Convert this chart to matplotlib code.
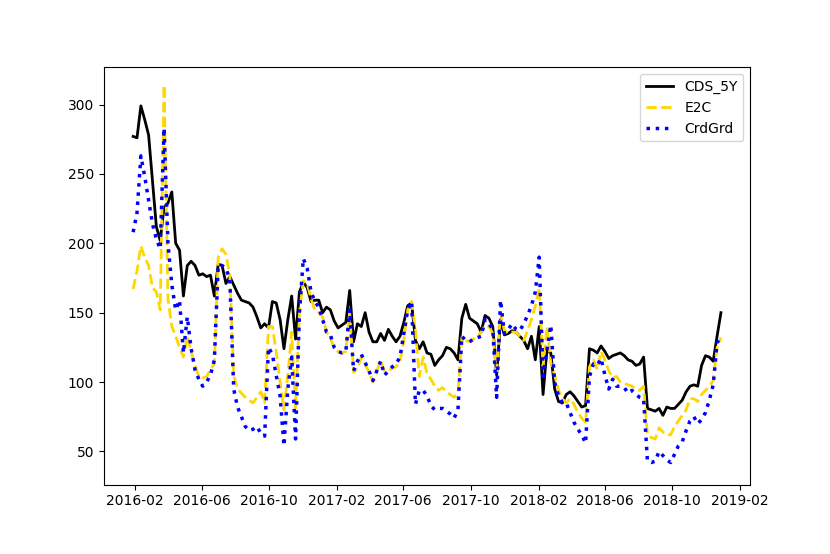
import numpy as np
import pandas as pd
import matplotlib
matplotlib.use("Agg")
import matplotlib.pyplot as plt
import matplotlib.dates as mdates

# weekly observations, Fridays
dates = pd.date_range("2016-01-29", periods=153, freq="7D")

cds_5y = [
    277, 276, 299, 289, 278, 245, 212, 202, 226, 229,
    237, 200, 195, 162, 184, 187, 184, 177, 178, 176,
    177, 162, 185, 184, 171, 176, 170, 164, 159, 158,
    157, 154, 147, 139, 142, 139, 158, 157, 145, 124,
    145, 162, 131, 165, 172, 168, 158, 159, 159, 150,
    154, 152, 144, 139, 141, 143, 166, 129, 142, 140,
    150, 136, 129, 129, 135, 130, 138, 133, 129, 133,
    143, 155, 157, 130, 124, 129, 121, 120, 112, 116,
    119, 125, 124, 121, 116, 146, 156, 146, 144, 142,
    136, 148, 146, 140, 105, 145, 134, 135, 137, 136,
    133, 130, 124, 133, 116, 140, 91, 123, 121, 95,
    86, 85, 91, 93, 90, 86, 82, 83, 124, 123,
    121, 126, 122, 117, 119, 120, 121, 119, 116, 115,
    112, 113, 118, 81, 80, 79, 81, 76, 82, 81,
    81, 84, 87, 93, 97, 98, 97, 112, 119, 118,
    115, 133, 150,
]

e2c = [
    167, 180, 198, 190, 184, 168, 165, 152, 314, 160,
    140, 133, 125, 118, 133, 122, 112, 104, 103, 104,
    109, 113, 190, 196, 192, 177, 105, 95, 92, 89,
    87, 85, 89, 93, 85, 140, 140, 122, 100, 80,
    105, 136, 80, 150, 173, 171, 160, 152, 150, 147,
    136, 132, 124, 122, 121, 122, 150, 107, 110, 118,
    113, 107, 100, 108, 115, 108, 108, 110, 111, 115,
    130, 152, 158, 138, 104, 118, 106, 102, 97, 94,
    96, 93, 91, 89, 92, 132, 130, 129, 131, 133,
    136, 141, 140, 135, 108, 150, 137, 135, 136, 136,
    133, 130, 137, 145, 155, 168, 111, 140, 114, 105,
    94, 88, 85, 88, 84, 78, 74, 71, 111, 116,
    109, 122, 116, 108, 103, 104, 100, 99, 98, 97,
    95, 94, 97, 62, 60, 59, 67, 64, 62, 62,
    68, 72, 76, 80, 88, 88, 86, 91, 94, 97,
    101, 125, 132,
]

crd_grd = [
    208, 222, 263, 248, 231, 214, 203, 196, 283, 200,
    170, 152, 159, 121, 147, 124, 109, 102, 97, 100,
    105, 116, 184, 184, 182, 174, 95, 82, 75, 68,
    65, 66, 68, 63, 61, 125, 120, 105, 90, 54,
    95, 118, 59, 150, 189, 182, 165, 158, 154, 145,
    136, 134, 125, 122, 121, 122, 152, 108, 115, 120,
    114, 108, 101, 108, 115, 105, 108, 111, 113, 118,
    135, 152, 158, 84, 94, 94, 90, 83, 80, 81,
    81, 79, 77, 74, 80, 133, 130, 129, 131, 132,
    133, 145, 142, 138, 89, 159, 135, 138, 142, 138,
    137, 142, 148, 155, 165, 190, 104, 123, 141, 100,
    90, 85, 85, 78, 71, 66, 62, 56, 104, 113,
    112, 117, 105, 95, 102, 97, 97, 96, 92, 94,
    91, 89, 88, 43, 42, 43, 50, 47, 44, 42,
    48, 54, 57, 65, 72, 75, 70, 73, 78, 87,
    98, 128, 133,
]

fig, ax = plt.subplots(figsize=(8.3, 5.54), dpi=100)
fig.subplots_adjust(left=0.125, right=0.904, top=0.879, bottom=0.125)

ax.plot(dates, cds_5y, color="black", linewidth=2, label="CDS_5Y")
ax.plot(dates, e2c, color="gold", linestyle="--", linewidth=2, label="E2C")
ax.plot(dates, crd_grd, color="blue", linestyle=":", linewidth=2.5, label="CrdGrd")

ax.set_ylim(26, 327)
ax.xaxis.set_major_locator(mdates.MonthLocator(bymonth=[2, 6, 10]))
ax.xaxis.set_major_formatter(mdates.DateFormatter("%Y-%m"))

ax.legend(loc="upper right")

plt.savefig("out.png", dpi=100)
